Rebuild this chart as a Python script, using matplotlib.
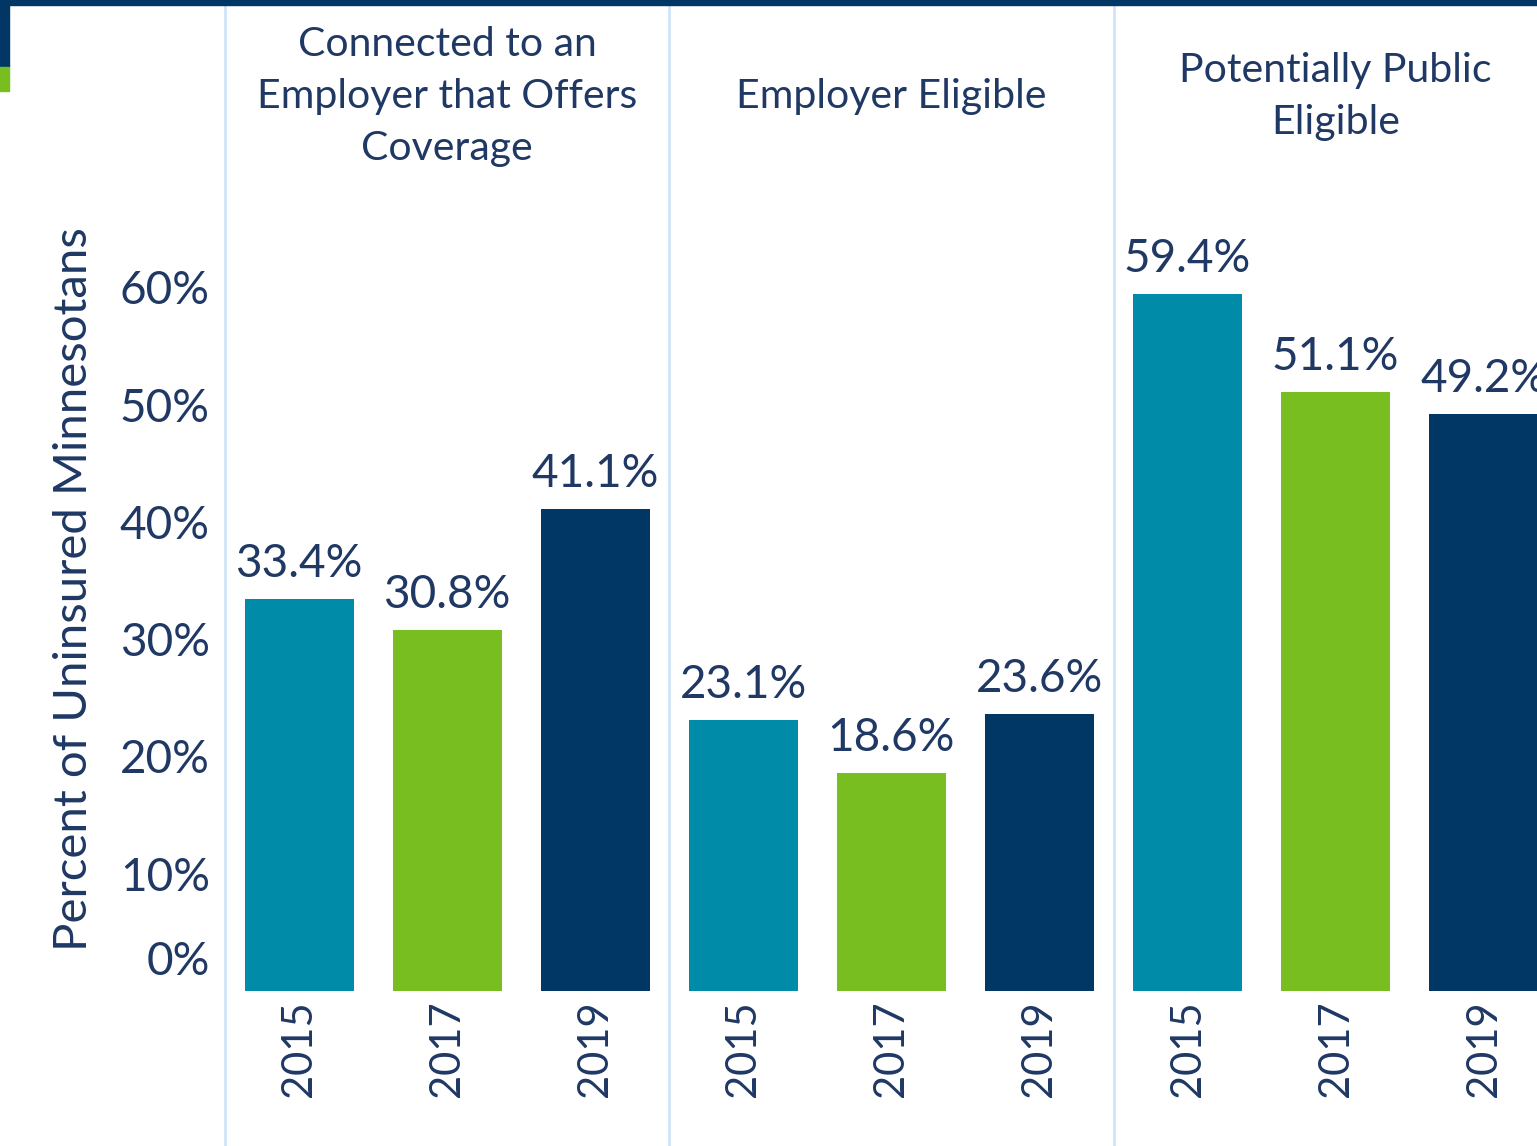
import numpy as np
import matplotlib
matplotlib.use("Agg")
import matplotlib.pyplot as plt
from matplotlib.patches import Rectangle
from matplotlib.transforms import ScaledTranslation

plt.rcParams['font.family'] = ['Lato', 'DejaVu Sans']

# data
groups = ["Connected to an\nEmployer that Offers\nCoverage", "Employer Eligible", "Potentially Public\nEligible"]
years = ["2015", "2017", "2019"]
values = [33.4, 30.8, 41.1,
          23.1, 18.6, 23.6,
          59.4, 51.1, 49.2]
yticks = [0, 10, 20, 30, 40, 50, 60]

teal = '#008ca8'
green = '#78be21'
navy = '#003764'
txt = '#1f3864'
sep = '#cfe4f8'
colors = [teal, green, navy] * 3

W, H = 1537, 1146
fig = plt.figure(figsize=(W / 100, H / 100), dpi=100)
ax = fig.add_axes([228 / W, 155 / H, 1 - 228 / W, 986 / H])

x = np.arange(len(values))
bars = ax.bar(x, values, width=0.737, color=colors)
ax.set_xlim(-0.48, 8.36)
ax.set_ylim(0, 84.06)

for xi, v in zip(x, values):
    ax.annotate(f"{v:.1f}%", (xi, v), xytext=(0, 10), textcoords='offset points',
                ha='center', va='bottom', fontsize=33, color=txt)

# year ticks
ax.set_xticks(x)
ax.set_xticklabels(years * 3, rotation=90, fontsize=30, color=txt)
ax.set_yticks(yticks)
ax.set_yticklabels([f"{t}%" for t in yticks], fontsize=33, color=txt)
ax.tick_params(length=0)
ax.tick_params(axis='x', pad=7)
ax.tick_params(axis='y', pad=13)
# the 0% label sits a bit above the baseline
lab0 = ax.get_yticklabels()[0]
lab0.set_transform(lab0.get_transform() + ScaledTranslation(0, 0.33, fig.dpi_scale_trans))

ax.set_ylabel("Percent of Uninsured Minnesotans", fontsize=34, color=txt)
ax.yaxis.set_label_coords(-133 / (W - 228), 0.408)

for s in ax.spines.values():
    s.set_visible(False)

# group separators and titles
for b in [-0.5, 2.5, 5.5]:
    ax.axvline(b, ymin=-0.2, ymax=1.0, color=sep, lw=2, clip_on=False, zorder=0)
for gi, g in enumerate(groups):
    ax.text(gi * 3 + 1, 76.3, g, ha='center', va='center', fontsize=29.5,
            color=txt, linespacing=1.5)

# frame decoration
fig.patches.append(Rectangle((0, 1 - 5 / H), 1, 5 / H, transform=fig.transFigure,
                             color=navy, zorder=5))
fig.patches.append(Rectangle((0, 1 - 67 / H), 9 / W, 67 / H, transform=fig.transFigure,
                             color=navy, zorder=5))
fig.patches.append(Rectangle((0, 1 - 91 / H), 9 / W, 24 / H, transform=fig.transFigure,
                             color=green, zorder=5))

fig.savefig("out.png", dpi=100)
